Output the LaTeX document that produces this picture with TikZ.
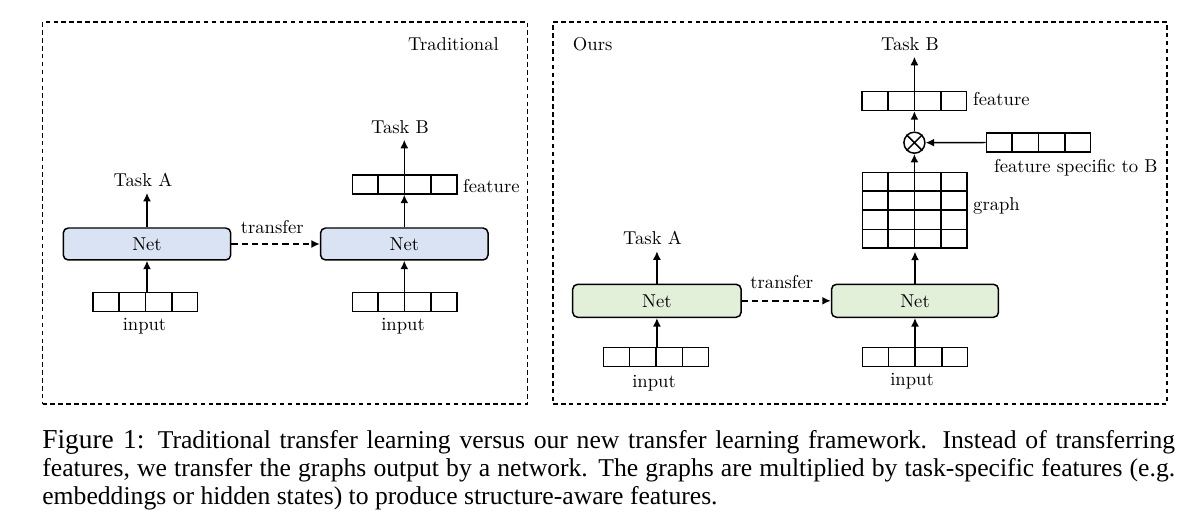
\documentclass[tikz,border=0pt]{standalone}
\usepackage{fontspec}
\newfontfamily\capfont{Liberation Serif}
\usetikzlibrary{arrows.meta,calc}
\definecolor{netblue}{RGB}{218,227,243}
\definecolor{netgreen}{RGB}{226,240,217}
\begin{document}
\begin{tikzpicture}[x=0.02cm,y=-0.02cm,
  frame/.style={draw, line width=0.7pt, dash pattern=on 2.6pt off 1.9pt},
  net/.style={draw, rounded corners=1mm, line width=0.85pt, inner sep=0, font=\fontsize{10.6}{12.7}\selectfont},
  arr/.style={draw, line width=0.85pt, minimum width=20.9mm, minimum height=3.8mm, inner sep=0},
  grid/.style={draw, line width=0.85pt, minimum width=20.9mm, minimum height=15.1mm, inner sep=0},
  lbl/.style={font=\fontsize{10.6}{12.7}\selectfont},
  conn/.style={-{Latex[length=1.7mm,width=1.6mm]}, line width=0.85pt},
  dconn/.style={conn, dash pattern=on 3.5pt off 2.3pt},
  capline/.style={anchor=base west, inner sep=0, font=\capfont\fontsize{14.6}{17}\selectfont}
]
\useasboundingbox (0,0) rectangle (1191,523);

% ---------- left panel ----------
\node[frame, minimum width=97mm, minimum height=76.4mm, inner sep=0] (frameL) at (285,213) {};
\node[lbl] (trad) at (453.5,44) {Traditional};

\node[net, fill=netblue, minimum width=33.5mm, minimum height=6.4mm] (netA1) at (147,244) {Net};
\node[net, fill=netblue, minimum width=33.5mm, minimum height=6.4mm] (netB1) at (404.3,244) {Net};
\node[arr] (inA1) at (145.3,302.2) {};
\node[arr] (inB1) at (404.7,302.2) {};
\node[arr] (featB1) at (404.7,184.5) {};
\node[lbl] (inlA1) at (144.5,326) {input};
\node[lbl] (inlB1) at (403,326) {input};
\node[lbl] (taskA1) at (143,180) {Task A};
\node[lbl] (taskB1) at (400,127) {Task B};
\node[lbl, anchor=west] (featl1) at (457,186) {feature};
\node[lbl] (trl1) at (272.3,227) {transfer};

\draw[conn] (inA1.north -| netA1.south) -- (netA1.south);
\draw[conn] (netA1.north) -- (netA1.north |- taskA1.south);
\draw[conn] (inB1.north -| netB1.south) -- (netB1.south);
\draw[conn] (netB1.north) -- (netB1.north |- featB1.south);
\draw[conn] (featB1.north -| netB1.north) -- (netB1.north |- taskB1.south);
\draw[dconn] (netA1.east) -- (netB1.west);

% ---------- right panel ----------
\node[frame, minimum width=122.8mm, minimum height=76.4mm, inner sep=0] (frameR) at (860,213) {};
\node[lbl] (ours) at (592.7,44) {Ours};

\node[net, fill=netgreen, minimum width=33.7mm, minimum height=6.6mm] (netA2) at (656.9,300.8) {Net};
\node[net, fill=netgreen, minimum width=33.4mm, minimum height=6.6mm] (netB2) at (915,300.8) {Net};
\node[arr, minimum width=21mm] (inA2) at (655.9,357.2) {};
\node[arr, minimum width=21mm] (inB2) at (915.2,357.2) {};
\node[lbl] (inlA2) at (654,383.5) {input};
\node[lbl] (inlB2) at (912,381.5) {input};
\node[lbl] (taskA2) at (652.5,238.3) {Task A};
\node[lbl] (trl2) at (781.8,282.3) {transfer};

\node[grid] (graph) at (914.6,210.2) {};
\node[lbl, anchor=west] (graphl) at (967,206) {graph};
\node[draw, circle, line width=0.85pt, minimum size=4.2mm, inner sep=0] (ot) at (914.4,142.7) {};
\draw[line width=0.85pt] (ot.north west) -- (ot.south east) (ot.north east) -- (ot.south west);
\node[arr] (fsp) at (1038.5,142.5) {};
\node[lbl, anchor=west] (fspl) at (988,167.7) {feature specific to B};
\node[arr] (featB2) at (914.4,101) {};
\node[lbl, anchor=west] (featl2) at (967,99.5) {feature};
\node[lbl] (taskB2) at (910,44) {Task B};

\draw[conn] (inA2.north -| netA2.south) -- (netA2.south);
\draw[conn] (netA2.north) -- (netA2.north |- taskA2.south);
\draw[conn] (inB2.north -| netB2.south) -- (netB2.south);
\draw[conn] (netB2.north) -- ($(graph.south -| netB2.north)+(0,3)$);
\draw[conn] (graph.north -| ot.south) -- (ot.south);
\draw[conn] (fsp.west) -- (ot.east);
\draw[conn] (ot.north) -- (featB2.south -| ot.north);
\draw[conn] (featB2.north -| ot.north) -- (ot.north |- taskB2.south);
\draw[dconn] (netA2.east) -- (netB2.west);

% cell dividers
\foreach \n in {inA1,inB1,featB1,inA2,inB2,fsp,featB2,graph}{
  \foreach \i in {1,2,3}{
    \draw[line width=0.85pt] ($(\n.north west)!\i/4!(\n.north east)$) -- ($(\n.south west)!\i/4!(\n.south east)$);
  }
}
\foreach \i in {1,2,3}{
  \draw[line width=0.85pt] ($(graph.north west)!\i/4!(graph.south west)$) -- ($(graph.north east)!\i/4!(graph.south east)$);
}

% ---------- caption ----------
\node[capline] (cap1) at (42,449) {\makebox[22.66cm][s]{{\fontsize{15.6}{17}\selectfont Figure 1:} Traditional transfer learning versus our new transfer learning framework. Instead of transferring}};
\node[capline] (cap2) at (42,477) {\makebox[22.66cm][s]{features, we transfer the graphs output by a network. The graphs are multiplied by task-specific features (e.g.}};
\node[capline] (cap3) at (42,505) {embeddings or hidden states) to produce structure-aware features.};
\end{tikzpicture}
\end{document}
